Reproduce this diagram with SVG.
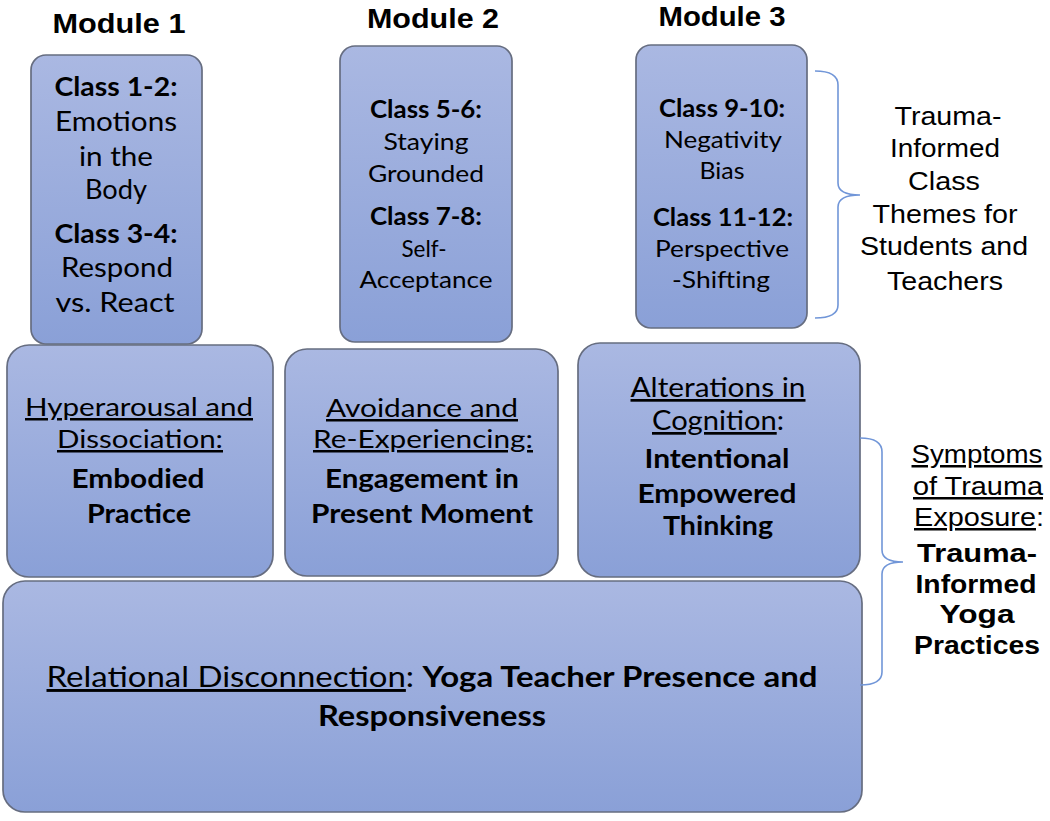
<svg xmlns="http://www.w3.org/2000/svg" width="1050" height="821" viewBox="0 0 1050 821">
<defs>
<linearGradient id="g" x1="0" y1="0" x2="0" y2="1">
<stop offset="0" stop-color="#aab8e2"/>
<stop offset="1" stop-color="#8aa0d7"/>
</linearGradient>
<style>
.box{fill:url(#g);stroke:#666d80;stroke-width:1.7}
.c{font-family:Lato,"Open Sans",sans-serif;fill:#000;text-anchor:middle}
.b{font-weight:bold}
.a{font-family:"Liberation Sans",Arial,sans-serif;fill:#000;text-anchor:middle}
.u{text-decoration:underline}
.m1{font-size:26px}
.m2{font-size:24px}
.s{font-size:27px}
.su{font-size:25px}
.bt{font-size:29px}
.r{font-size:25px}
.h{font-size:28px;font-weight:bold}
.br{fill:none;stroke:#7196d8;stroke-width:1.6}
</style>
</defs>
<rect width="1050" height="821" fill="#fff"/>

<g id="headers">
<text class="a h" x="119" y="33" textLength="133" lengthAdjust="spacingAndGlyphs">Module 1</text>
<text class="a h" x="433" y="28" textLength="132" lengthAdjust="spacingAndGlyphs">Module 2</text>
<text class="a h" x="722" y="26" textLength="127" lengthAdjust="spacingAndGlyphs">Module 3</text>
</g>

<g id="class-m1">
<rect class="box" x="31" y="55" width="171" height="289" rx="15"/>
<text class="c b m1" x="116" y="96" textLength="123" lengthAdjust="spacingAndGlyphs">Class 1-2:</text>
<text class="c m1" x="116" y="131" textLength="122" lengthAdjust="spacingAndGlyphs">Emotions</text>
<text class="c m1" x="116" y="166" textLength="74" lengthAdjust="spacingAndGlyphs">in the</text>
<text class="c m1" x="116" y="199" textLength="62" lengthAdjust="spacingAndGlyphs">Body</text>
<text class="c b m1" x="116" y="243" textLength="123" lengthAdjust="spacingAndGlyphs">Class 3-4:</text>
<text class="c m1" x="117" y="277" textLength="112" lengthAdjust="spacingAndGlyphs">Respond</text>
<text class="c m1" x="115" y="312" textLength="119" lengthAdjust="spacingAndGlyphs">vs. React</text>
</g>

<g id="class-m2">
<rect class="box" x="340" y="46" width="172" height="296" rx="15"/>
<text class="c b m2" x="426" y="118" textLength="112" lengthAdjust="spacingAndGlyphs">Class 5-6:</text>
<text class="c m2" x="426" y="150" textLength="85" lengthAdjust="spacingAndGlyphs">Staying</text>
<text class="c m2" x="426" y="182" textLength="116" lengthAdjust="spacingAndGlyphs">Grounded</text>
<text class="c b m2" x="426" y="225" textLength="112" lengthAdjust="spacingAndGlyphs">Class 7-8:</text>
<text class="c m2" x="424" y="257" textLength="45" lengthAdjust="spacingAndGlyphs">Self-</text>
<text class="c m2" x="426" y="288" textLength="133" lengthAdjust="spacingAndGlyphs">Acceptance</text>
</g>

<g id="class-m3">
<rect class="box" x="636" y="45" width="171" height="283" rx="15"/>
<text class="c b m2" x="722" y="117" textLength="126" lengthAdjust="spacingAndGlyphs">Class 9-10:</text>
<text class="c m2" x="723" y="148" textLength="118" lengthAdjust="spacingAndGlyphs">Negativity</text>
<text class="c m2" x="722" y="179" textLength="45" lengthAdjust="spacingAndGlyphs">Bias</text>
<text class="c b m2" x="723" y="226" textLength="140" lengthAdjust="spacingAndGlyphs">Class 11-12:</text>
<text class="c m2" x="722" y="257" textLength="134" lengthAdjust="spacingAndGlyphs">Perspective</text>
<text class="c m2" x="721" y="288" textLength="98" lengthAdjust="spacingAndGlyphs">-Shifting</text>
</g>

<g id="symptom-1">
<rect class="box" x="7" y="345" width="266" height="232" rx="22"/>
<text class="c su u" x="139" y="416" textLength="228" lengthAdjust="spacingAndGlyphs">Hyperarousal and</text>
<text class="c su u" x="140" y="448" textLength="166" lengthAdjust="spacingAndGlyphs">Dissociation:</text>
<text class="c s b" x="138" y="488" textLength="133" lengthAdjust="spacingAndGlyphs">Embodied</text>
<text class="c s b" x="139" y="523" textLength="104" lengthAdjust="spacingAndGlyphs">Practice</text>
</g>

<g id="symptom-2">
<rect class="box" x="285" y="349" width="273" height="227" rx="22"/>
<text class="c su u" x="422" y="417" textLength="192" lengthAdjust="spacingAndGlyphs">Avoidance and</text>
<text class="c su u" x="423" y="448" textLength="220" lengthAdjust="spacingAndGlyphs">Re-Experiencing:</text>
<text class="c s b" x="422" y="488" textLength="194" lengthAdjust="spacingAndGlyphs">Engagement in</text>
<text class="c s b" x="422" y="523" textLength="222" lengthAdjust="spacingAndGlyphs">Present Moment</text>
</g>

<g id="symptom-3">
<rect class="box" x="578" y="343" width="282" height="234" rx="22"/>
<text class="c s u" x="718" y="397" textLength="175" lengthAdjust="spacingAndGlyphs">Alterations in</text>
<text class="c s" x="718" y="430" textLength="132" lengthAdjust="spacingAndGlyphs"><tspan class="u">Cognition</tspan>:</text>
<text class="c s b" x="717" y="468" textLength="145" lengthAdjust="spacingAndGlyphs">Intentional</text>
<text class="c s b" x="717" y="503" textLength="159" lengthAdjust="spacingAndGlyphs">Empowered</text>
<text class="c s b" x="718" y="535" textLength="110" lengthAdjust="spacingAndGlyphs">Thinking</text>
</g>

<g id="relational">
<rect class="box" x="3" y="581" width="859" height="231" rx="22"/>
<text class="c bt" x="432" y="687" textLength="771" lengthAdjust="spacingAndGlyphs"><tspan class="u">Relational Disconnection</tspan>: <tspan class="b">Yoga Teacher Presence and</tspan></text>
<text class="c bt b" x="432" y="726" textLength="228" lengthAdjust="spacingAndGlyphs">Responsiveness</text>
</g>

<g id="connectors">
<path class="br" d="M815,71 Q838,71 838,85 L838,183 Q838,195 860,195 Q838,195 838,207 L838,305 Q838,318 815,318"/>
<path class="br" d="M860,438 Q882,438 882,452 L882,550 Q882,562 903,562 Q882,562 882,574 L882,672 Q882,685 860,685"/>
</g>

<g id="label-themes">
<text class="a r" x="948" y="125" textLength="107" lengthAdjust="spacingAndGlyphs">Trauma-</text>
<text class="a r" x="945" y="157" textLength="110" lengthAdjust="spacingAndGlyphs">Informed</text>
<text class="a r" x="944" y="190" textLength="72" lengthAdjust="spacingAndGlyphs">Class</text>
<text class="a r" x="945" y="223" textLength="145" lengthAdjust="spacingAndGlyphs">Themes for</text>
<text class="a r" x="944" y="255" textLength="168" lengthAdjust="spacingAndGlyphs">Students and</text>
<text class="a r" x="945" y="290" textLength="116" lengthAdjust="spacingAndGlyphs">Teachers</text>
</g>

<g id="label-symptoms">
<text class="a r u" x="977" y="463" textLength="131" lengthAdjust="spacingAndGlyphs">Symptoms</text>
<text class="a r u" x="978" y="495" textLength="130" lengthAdjust="spacingAndGlyphs">of Trauma</text>
<text class="a r" x="979" y="526" textLength="130" lengthAdjust="spacingAndGlyphs"><tspan class="u">Exposure</tspan>:</text>
<text class="a r b" x="977" y="562" textLength="120" lengthAdjust="spacingAndGlyphs">Trauma-</text>
<text class="a r b" x="976" y="593" textLength="121" lengthAdjust="spacingAndGlyphs">Informed</text>
<text class="a r b" x="977" y="623" textLength="75" lengthAdjust="spacingAndGlyphs">Yoga</text>
<text class="a r b" x="977" y="654" textLength="126" lengthAdjust="spacingAndGlyphs">Practices</text>
</g>
</svg>
